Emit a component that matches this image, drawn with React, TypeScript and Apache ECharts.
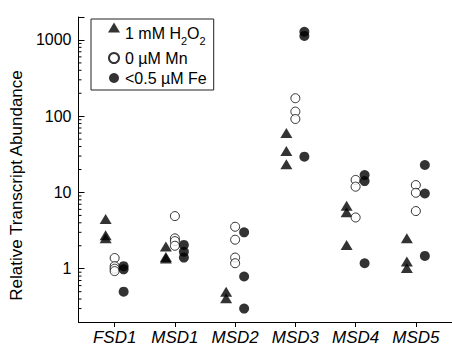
import React, { useEffect, useRef } from "react";
import * as echarts from "echarts";

const categories = ["FSD1", "MSD1", "MSD2", "MSD3", "MSD4", "MSD5"];
// replicate values per category (relative transcript abundance)
const h2o2Values = [
  [4.5, 2.75, 2.5],
  [1.95, 1.42, 1.36],
  [0.5, 0.41],
  [60, 35, 23.5],
  [6.7, 5.5, 2.05],
  [2.5, 1.24, 1.02],
];
const mnValues = [
  [1.38, 1.08, 1.0, 0.93],
  [4.9, 2.5, 2.3, 2.0],
  [3.55, 2.4, 1.4, 1.18],
  [172, 115, 92],
  [14.6, 11.9, 4.7],
  [12.5, 9.9, 5.7],
];
const feValues = [
  [1.08, 0.98, 0.5],
  [2.05, 1.67, 1.4],
  [3.0, 0.79, 0.3],
  [1280, 1130, 29.5],
  [16.9, 14.1, 1.18],
  [22.9, 9.7, 1.47],
];
const seriesNames = ["1 mM H2O2", "0 \u00b5M Mn", "<0.5 \u00b5M Fe"];
const yMin = 0.2;
const yMax = 2000;
const xMin = 0.4;
const xMax = 6.6;
const categoryTicks = [1, 2, 3, 4, 5, 6];
const minorMultipliers = [2, 3, 4, 5, 6, 7, 8, 9];
const decades = [0.1, 1, 10, 100];

const FONT = "'Liberation Sans', Arial, Helvetica, sans-serif";

function toPoints(groups: number[][]) {
  const out: number[][] = [];
  groups.forEach((vals, i) => vals.forEach((v) => out.push([i + 1, v])));
  return out;
}

export default function App() {
  const ref = useRef<HTMLDivElement>(null);
  useEffect(() => {
    if (!ref.current) return;
    const chart = echarts.init(ref.current, undefined, { renderer: "svg" });
    const minorTickValues: number[] = [];
    decades.forEach((d) =>
      minorMultipliers.forEach((m) => {
        const v = +(d * m).toPrecision(6);
        if (v > yMin && v < yMax) minorTickValues.push(v);
      })
    );
    const isPow10 = (v: number) => {
      const l = Math.log10(v);
      return Math.abs(l - Math.round(l)) < 1e-6;
    };
    chart.setOption({
      animation: false,
      backgroundColor: "#fff",
      textStyle: { fontFamily: FONT },
      grid: { left: 76, right: -2, top: 17, bottom: 26 },
      legend: {
        orient: "vertical",
        left: 91,
        top: 19,
        padding: [0, 7, 4, 17],
        itemGap: 4,
        itemWidth: 12,
        itemHeight: 10,
        itemTextGap: 12,
        borderColor: "#222",
        borderWidth: 1,
        data: seriesNames,
        formatter: (name: string) =>
          name === seriesNames[0] ? "{m|1 mM H}{s|2}{m|O}{s|2}" : name,
        textStyle: {
          fontFamily: FONT,
          fontSize: 16,
          lineHeight: 16,
          color: "#000",
          rich: {
            m: { fontFamily: FONT, fontSize: 16, lineHeight: 17, padding: [6, 0, 0, 0], verticalAlign: "top", color: "#000" },
            s: { fontFamily: FONT, fontSize: 11, lineHeight: 11, padding: [16, 0, 0, 0], verticalAlign: "top", color: "#000" },
          },
        },
      },
      xAxis: {
        type: "value",
        min: xMin,
        max: xMax,
        splitLine: { show: false },
        axisLine: { lineStyle: { color: "#000", width: 1 } },
        axisTick: { customValues: categoryTicks, length: 5, lineStyle: { color: "#000" } },
        axisLabel: {
          customValues: categoryTicks,
          formatter: (v: number) => categories[Math.round(v) - 1] ?? "",
          fontFamily: FONT,
          fontSize: 17,
          fontStyle: "italic",
          color: "#000",
          margin: 7,
        },
      },
      yAxis: {
        type: "log",
        logBase: 10,
        min: yMin,
        max: yMax,
        name: "Relative Transcript Abundance",
        nameLocation: "middle",
        nameGap: 48,
        nameTextStyle: { fontFamily: FONT, fontSize: 17, color: "#000", padding: [0, 32, 0, 0] },
        splitLine: { show: false },
        minorTick: { show: false },
        axisLine: { show: true, lineStyle: { color: "#000", width: 1 } },
        axisTick: { inside: true, length: 6, lineStyle: { color: "#000" } },
        axisLabel: {
          formatter: (v: number) => (isPow10(v) ? String(Math.round(v)) : ""),
          fontFamily: FONT,
          fontSize: 16,
          color: "#000",
          margin: 7,
        },
      },
      series: [
        {
          name: seriesNames[0],
          type: "scatter",
          symbol: "triangle",
          symbolSize: [12, 10],
          symbolOffset: [-9, 0],
          itemStyle: { color: "#000" },
          data: toPoints(h2o2Values),
        },
        {
          name: seriesNames[1],
          type: "scatter",
          symbol: "circle",
          symbolSize: 9,
          itemStyle: { color: "#fff", borderColor: "#000", borderWidth: 1 },
          data: toPoints(mnValues),
        },
        {
          name: seriesNames[2],
          type: "scatter",
          symbol: "circle",
          symbolSize: 10,
          symbolOffset: [9, 0],
          itemStyle: { color: "#000" },
          data: toPoints(feValues),
        },
        {
          name: "minorTicks",
          type: "custom",
          silent: true,
          clip: false,
          data: minorTickValues.map((v) => [xMin, v]),
          renderItem: (_params: any, api: any) => {
            const p = api.coord([xMin, api.value(1)]);
            return {
              type: "line",
              shape: { x1: p[0], y1: p[1], x2: p[0] + 3, y2: p[1] },
              style: { stroke: "#000", lineWidth: 1 },
            };
          },
        },
      ],
    });
    return () => chart.dispose();
  }, []);
  return (
    <div
      ref={ref}
      style={{ position: "absolute", left: 0, top: 0, width: 452, height: 348 }}
    />
  );
}
